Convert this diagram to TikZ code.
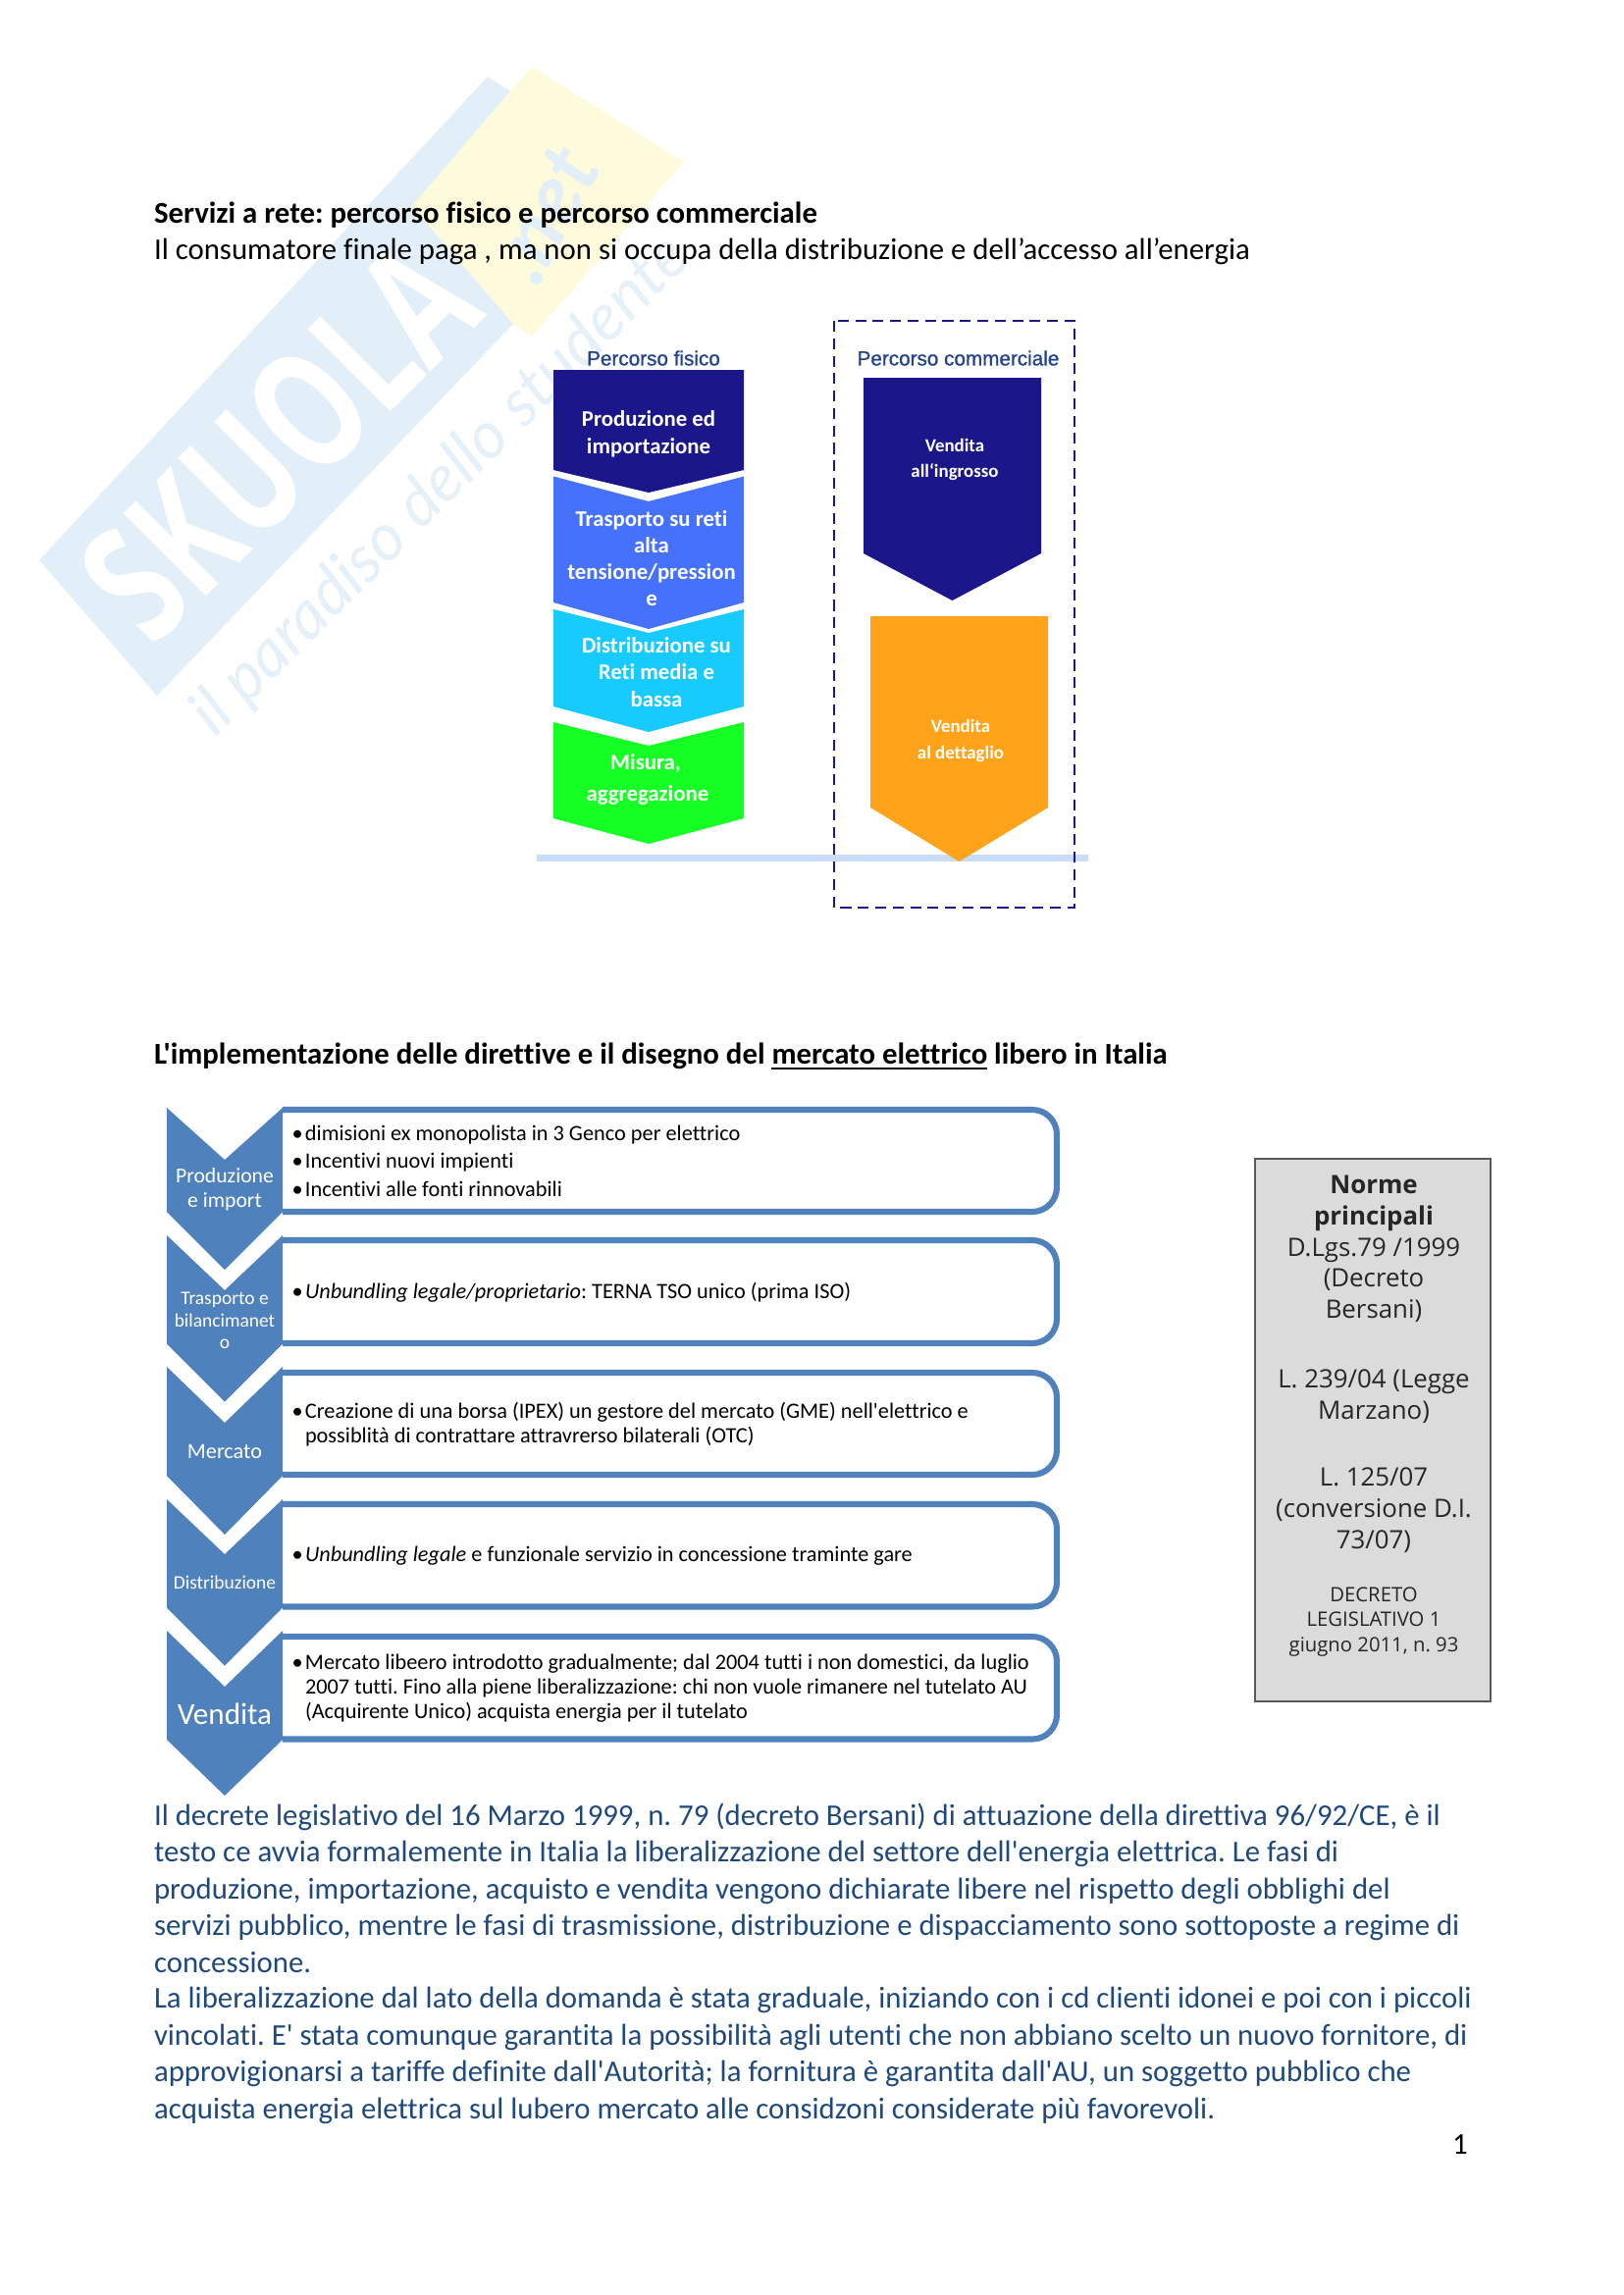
\documentclass[tikz,border=0pt]{standalone}
\usepackage{fontspec}
\setmainfont{Carlito}[Ligatures={CommonOff,TeXOff}]
\newfontfamily\wmfont{Open Sans}[FakeStretch=0.72]
\newfontfamily\tagfont{Lato}
\newfontfamily\arialf{Liberation Sans}[FakeBold=1]
\newfontfamily\normf{Open Sans}[Ligatures={CommonOff,TeXOff}]
\definecolor{wmblue}{HTML}{E3EFF8}
\definecolor{wmyellow}{HTML}{FEFBDC}
\definecolor{wmtag}{HTML}{E6F0F9}
\definecolor{navy}{HTML}{1B1689}
\definecolor{midblue}{HTML}{4672FB}
\definecolor{skyb}{HTML}{17CBFF}
\definecolor{brightgreen}{HTML}{16FF25}
\definecolor{amber}{HTML}{FFA31A}
\definecolor{railblue}{HTML}{C9DCF8}
\definecolor{steel}{HTML}{4F81BD}
\definecolor{bodyblue}{HTML}{1F497D}
\definecolor{percorso}{HTML}{24448E}
\newcommand\bul{\llap{\textbullet\hspace{0.8pt}}}
\newcommand\fsz[2]{\fontsize{#1}{#2}\selectfont}
\frenchspacing
\tikzset{
  txt/.style={inner sep=0pt,outer sep=0pt,align=left,anchor=west},
  ctr/.style={inner sep=0pt,outer sep=0pt,align=center,anchor=center},
  whitebold/.style={ctr,text=white,font=\bfseries\fsz{8.2}{#1}},
  rowtext/.style={txt,text=black},
  chevlabel/.style={ctr,text=white},
  rowbox/.style={draw=steel,line width=2.2pt,fill=white,rounded corners=9pt},
}
% left, right, top shoulder, notch, bottom shoulder, tip
\newcommand\chev[7]{\fill[#1] (#2,#4) -- (#3*0.5+#2*0.5,#5) -- (#3,#4) -- (#3,#6) -- (#3*0.5+#2*0.5,#7) -- (#2,#6) -- cycle;}
\newcommand\rowb[2]{\draw[rowbox] (288,#1) -- (1077,#1) -- (1077,#2) -- (288,#2);}
\begin{document}
\begin{tikzpicture}[x=0.36pt,y=-0.36pt]
\useasboundingbox (0,0) rectangle (1654,2339);
\fill[white] (0,0) rectangle (1654,2339);
% watermark
\fill[wmblue] (40,571) -- (497,78) -- (520,93) -- (523,330) -- (160,709) -- cycle;
\fill[wmyellow] (542,68) -- (697,165) -- (542,343) -- (523,330) -- (420,210) -- (520,93) -- cycle;
\node[ctr,rotate=45,text=white,font=\wmfont\bfseries\fsz{60}{66}] (wmA) at (284,449) {SKUOLA};
\node[ctr,rotate=62,text=wmblue,font=\tagfont\bfseries\itshape\fsz{31}{36}] (wmB) at (556,218) {.net};
\node[ctr,rotate=45,text=wmtag,font=\tagfont\itshape\fsz{24}{27}] (wmC) at (449,496) {il paradiso dello studente};
% headings
\node[txt,font=\bfseries\fsz{11.09}{13.5}] (h1) at (157,219) {Servizi a rete: percorso fisico e percorso commerciale};
\node[txt,font=\fsz{11.09}{13.5}] (h2) at (157,256) {Il consumatore finale paga , ma non si occupa della distribuzione e dell’accesso all’energia};
% rail and dashed frame
\fill[railblue] (547,870.5) rectangle (1109,877.5);
\draw[navy,line width=0.9pt,dash pattern=on 4pt off 2.4pt] (850,327) rectangle (1095,925);
\node[ctr,text=percorso,font=\arialf\fsz{7.45}{9}] (pf) at (666,365) {Percorso fisico};
\node[ctr,text=percorso,font=\arialf\fsz{7.45}{9}] (pc) at (976.5,365) {Percorso commerciale};
% physical chain
\chev{brightgreen}{564}{758}{736}{760}{834}{860}
\chev{skyb}{564}{758}{621}{645}{720}{746}
\chev{midblue}{564}{758}{485.5}{511}{614}{641}
\chev{navy}{564}{758}{377}{377}{479}{502}
\node[whitebold=10] (p1) at (661,442) {Produzione ed\\importazione};
\node[whitebold=9.8] (p2) at (664,569) {Trasporto su reti\\alta\\tensione/pression\\e};
\node[whitebold=9.8] (p3) at (669,685) {Distribuzione su\\Reti media e\\bassa};
\node[whitebold=9.8] (p4a) at (658,778) {Misura,};
\node[whitebold=9.8] (p4b) at (660,810) {aggregazione};
% commercial chain
\chev{navy}{880}{1061}{385}{385}{564}{612}
\chev{amber}{887}{1068}{628}{628}{823}{878}
\node[ctr,text=white,font=\bfseries\fsz{6.8}{9.4}] (c1) at (973,468.5) {Vendita\\all‘ingrosso};
\node[ctr,text=white,font=\bfseries\fsz{6.8}{9.4}] (c2) at (979,755) {Vendita\\al dettaglio};
% heading 2
\node[txt,font=\bfseries\fsz{11.09}{13.5}] (h3) at (157,1077) {L'implementazione delle direttive e il disegno del \underline{mercato elettrico} libero in Italia};
% rows
\rowb{1131}{1235}
\rowb{1264}{1369}
\rowb{1399}{1503}
\rowb{1533}{1637.5}
\rowb{1668}{1772.5}
% left chevrons
\chev{steel}{170}{288}{1129}{1182}{1235}{1294}
\chev{steel}{170}{288}{1259}{1315}{1369.5}{1428.5}
\chev{steel}{170}{288}{1393}{1450}{1504}{1564}
\chev{steel}{170}{288}{1528}{1584}{1638.5}{1697.5}
\chev{steel}{170}{288}{1662}{1719}{1773}{1830}
\node[chevlabel,font=\fsz{7.8}{9}] (l1) at (229,1212) {Produzione\\e import};
\node[chevlabel,font=\fsz{7}{8}] (l2) at (229,1346) {Trasporto e\\bilancimanet\\o};
\node[chevlabel,font=\fsz{8}{10}] (l3) at (229,1479) {Mercato};
\node[chevlabel,font=\fsz{7}{10}] (l4) at (229,1613) {Distribuzione};
\node[chevlabel,font=\fsz{11.2}{14}] (l5) at (229,1747) {Vendita};
% row text
\node[rowtext,font=\fsz{8.03}{10.3}] (r1) at (311,1183) {\bul dimisioni ex monopolista in 3 Genco per elettrico\\\bul Incentivi nuovi impienti\\\bul Incentivi alle fonti rinnovabili};
\node[rowtext,font=\fsz{8.03}{9}] (r2) at (311,1317) {\bul \textit{Unbundling legale/proprietario}: TERNA TSO unico (prima ISO)};
\node[rowtext,font=\fsz{8.03}{9}] (r3) at (311,1451.5) {\bul Creazione di una borsa (IPEX) un gestore del mercato (GME) nell'elettrico e\\possiblità di contrattare attravrerso bilaterali (OTC)};
\node[rowtext,font=\fsz{8.03}{9}] (r4) at (311,1586) {\bul \textit{Unbundling legale} e funzionale servizio in concessione traminte gare};
\node[rowtext,font=\fsz{8.03}{9}] (r5) at (311,1721) {\bul Mercato libeero introdotto gradualmente; dal 2004 tutti i non domestici, da luglio\\2007 tutti. Fino alla piene liberalizzazione: chi non vuole rimanere nel tutelato AU\\(Acquirente Unico) acquista energia per il tutelato};
% norme box
\draw[draw=black!65,fill=black!14,line width=0.6pt] (1279,1181) rectangle (1519,1734);
\node[ctr,text=black!85,font=\normf\fsz{9.3}{11.4}] (n1) at (1400,1273) {\textbf{Norme}\\\textbf{principali}\\D.Lgs.79 /1999\\(Decreto\\Bersani)};
\node[ctr,text=black!85,font=\normf\fsz{9.3}{11.4}] (n2) at (1400,1423) {L. 239/04 (Legge\\Marzano)};
\node[ctr,text=black!85,font=\normf\fsz{9.3}{11.4}] (n3) at (1400,1539) {L. 125/07\\(conversione D.I.\\73/07)};
\node[ctr,text=black!85,font=\normf\fsz{7.3}{9.3}] (n4) at (1400,1653) {DECRETO\\LEGISLATIVO 1\\giugno 2011, n. 93};
% paragraphs
\node[txt,text=bodyblue,font=\fsz{11.09}{13.5}] (b1) at (157,1924) {Il decrete legislativo del 16 Marzo 1999, n. 79 (decreto Bersani) di attuazione della direttiva 96/92/CE, è il\\testo ce avvia formalemente in Italia la liberalizzazione del settore dell'energia elettrica. Le fasi di\\produzione, importazione, acquisto e vendita vengono dichiarate libere nel rispetto degli obblighi del\\servizi pubblico, mentre le fasi di trasmissione, distribuzione e dispacciamento sono sottoposte a regime di\\concessione.};
\node[txt,text=bodyblue,font=\fsz{11.09}{13.5}] (b2) at (157,2095) {La liberalizzazione dal lato della domanda è stata graduale, iniziando con i cd clienti idonei e poi con i piccoli\\vincolati. E' stata comunque garantita la possibilità agli utenti che non abbiano scelto un nuovo fornitore, di\\approvigionarsi a tariffe definite dall'Autorità; la fornitura è garantita dall'AU, un soggetto pubblico che\\acquista energia elettrica sul lubero mercato alle considzoni considerate più favorevoli.};
\node[ctr,font=\fsz{11.09}{13.5}] (pg) at (1488,2186) {1};
\end{tikzpicture}
\end{document}
